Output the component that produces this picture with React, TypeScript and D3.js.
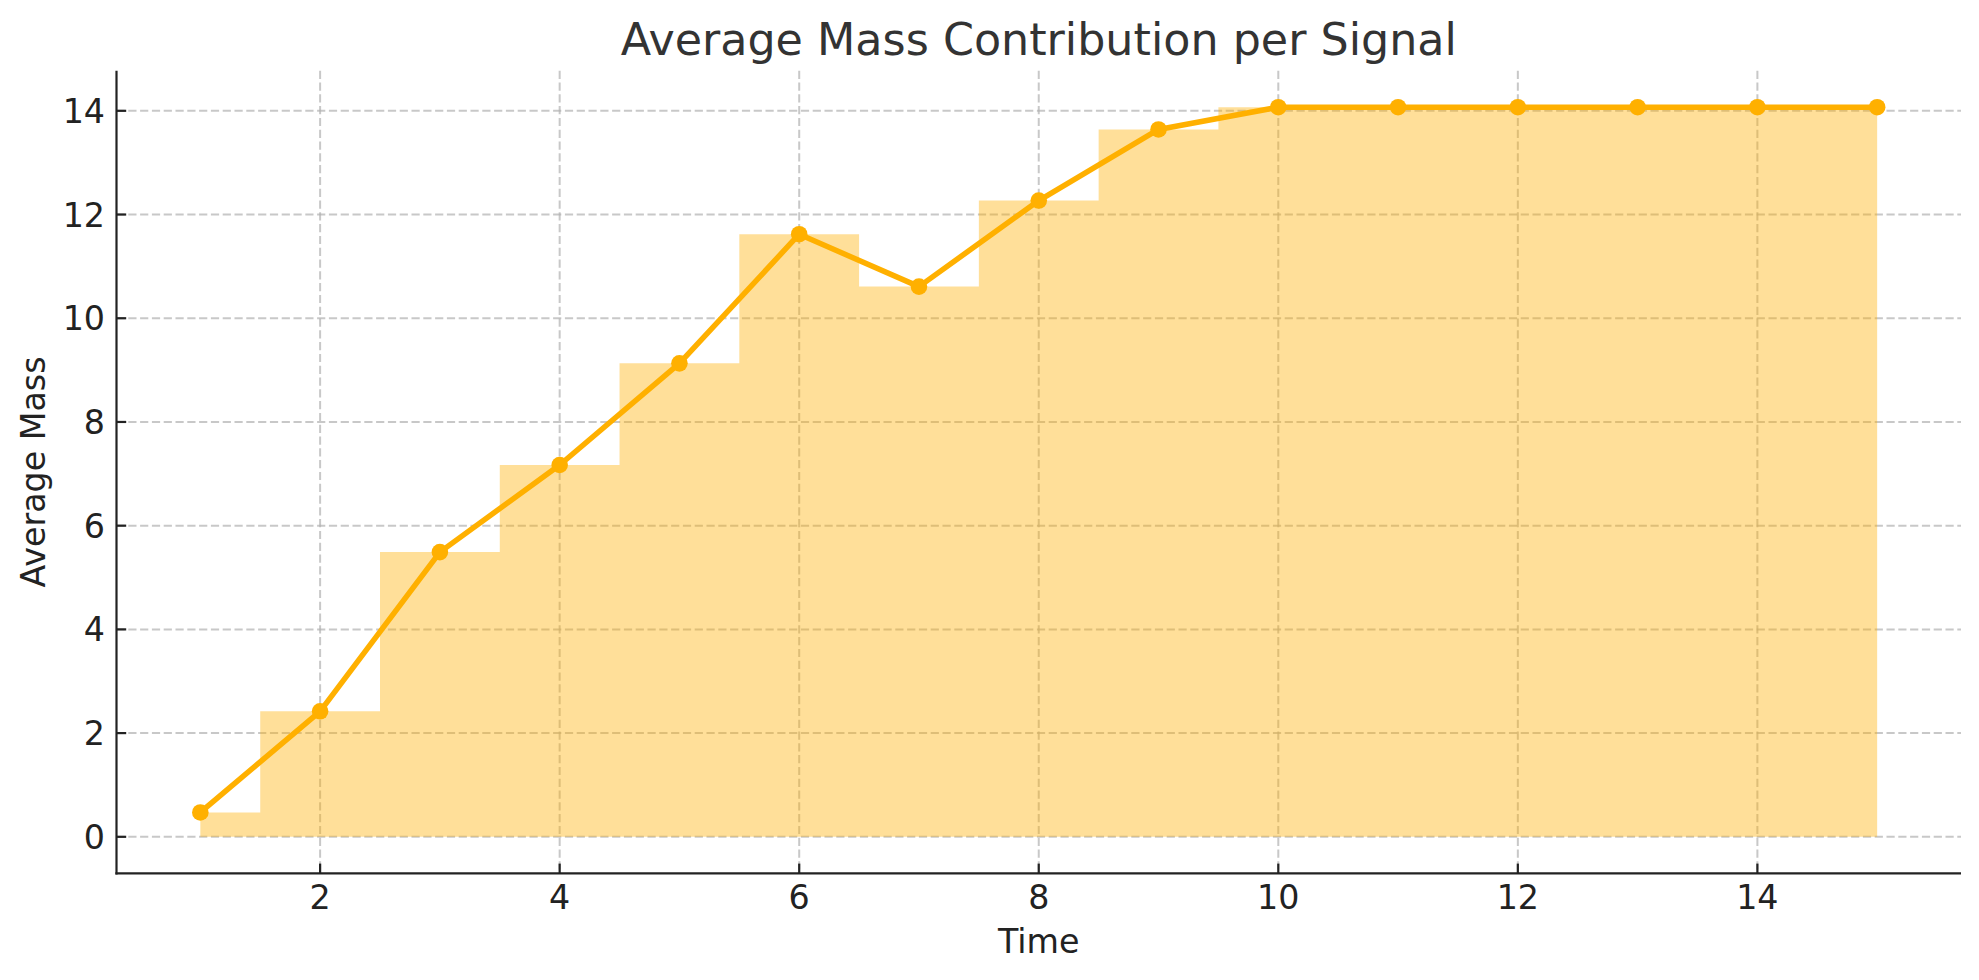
import React from "react";
import * as d3 from "d3";

const timeSteps = [1, 2, 3, 4, 5, 6, 7, 8, 9, 10, 11, 12, 13, 14, 15];
const avgMass = [0.47, 2.42, 5.49, 7.17, 9.13, 11.62, 10.61, 12.27, 13.64, 14.07, 14.07, 14.07, 14.07, 14.07, 14.07];
const xTickValues = [2, 4, 6, 8, 10, 12, 14];
const yTickValues = [0, 2, 4, 6, 8, 10, 12, 14];
const titleText = "Average Mass Contribution per Signal";
const xLabelText = "Time";
const yLabelText = "Average Mass";

const W = 1979;
const H = 980;
const FONT = "'DejaVu Sans', Verdana, sans-serif";
const COLOR = "#FFB000";

export default function App() {
  const left = 116.5;
  const right = 1961;
  const top = 70.7;
  const bottom = 873.3;

  const xMin = d3.min(timeSteps)!;
  const xMax = d3.max(timeSteps)!;
  const xPad = (xMax - xMin) * 0.05;
  const yMax = d3.max(avgMass)!;
  const yPad = yMax * 0.05;

  const x = d3.scaleLinear().domain([xMin - xPad, xMax + xPad]).range([left, right]);
  const y = d3.scaleLinear().domain([-yPad, yMax + yPad]).range([bottom, top]);

  const pts = timeSteps.map((t, i) => [t, avgMass[i]] as [number, number]);

  const area = d3
    .area<[number, number]>()
    .curve(d3.curveStep)
    .x((d) => x(d[0]))
    .y0(() => y(0))
    .y1((d) => y(d[1]));

  const line = d3
    .line<[number, number]>()
    .x((d) => x(d[0]))
    .y((d) => y(d[1]));

  const gridStyle = {
    stroke: "#b0b0b0",
    strokeOpacity: 0.7,
    strokeWidth: 2,
    strokeDasharray: "8.2,3.6",
  };
  const tickLen = 9.7;
  const axisColor = "#222222";
  const tickFont = 33.3;

  return (
    <div style={{ position: "absolute", left: 0, top: 0 }}>
      <svg width={W} height={H} style={{ display: "block", background: "#fff" }} fontFamily={FONT}>
        <g>
          {xTickValues.map((t) => (
            <line key={"gx" + t} x1={x(t)} x2={x(t)} y1={top} y2={bottom} {...gridStyle} />
          ))}
          {yTickValues.map((t) => (
            <line key={"gy" + t} x1={left} x2={right} y1={y(t)} y2={y(t)} {...gridStyle} />
          ))}
        </g>
        <path d={area(pts) || ""} fill={COLOR} fillOpacity={0.4} stroke="none" />
        <path d={line(pts) || ""} fill="none" stroke={COLOR} strokeWidth={5.5} strokeLinejoin="round" strokeLinecap="round" />
        {pts.map((p, i) => (
          <circle key={"m" + i} cx={x(p[0])} cy={y(p[1])} r={8.3} fill={COLOR} />
        ))}
        <line x1={left} x2={left} y1={top} y2={bottom + 1.1} stroke={axisColor} strokeWidth={2.2} />
        <line x1={left - 1.1} x2={right} y1={bottom} y2={bottom} stroke={axisColor} strokeWidth={2.2} />
        {xTickValues.map((t) => (
          <g key={"xt" + t}>
            <line x1={x(t)} x2={x(t)} y1={bottom} y2={bottom - tickLen} stroke={axisColor} strokeWidth={2.2} />
            <text x={x(t)} y={909} textAnchor="middle" fontSize={tickFont} fill="#222">
              {t}
            </text>
          </g>
        ))}
        {yTickValues.map((t) => (
          <g key={"yt" + t}>
            <line x1={left} x2={left + tickLen} y1={y(t)} y2={y(t)} stroke={axisColor} strokeWidth={2.2} />
            <text x={105} y={y(t) + 12.1} textAnchor="end" fontSize={tickFont} fill="#222">
              {t}
            </text>
          </g>
        ))}
        <text x={(left + right) / 2} y={952.7} textAnchor="middle" fontSize={33.3} fill="#222">
          {xLabelText}
        </text>
        <text transform={`translate(44.5, ${(top + bottom) / 2}) rotate(-90)`} textAnchor="middle" fontSize={33.3} fill="#222">
          {yLabelText}
        </text>
        <text x={(left + right) / 2} y={55} textAnchor="middle" fontSize={44.4} fill="#333">
          {titleText}
        </text>
      </svg>
    </div>
  );
}
